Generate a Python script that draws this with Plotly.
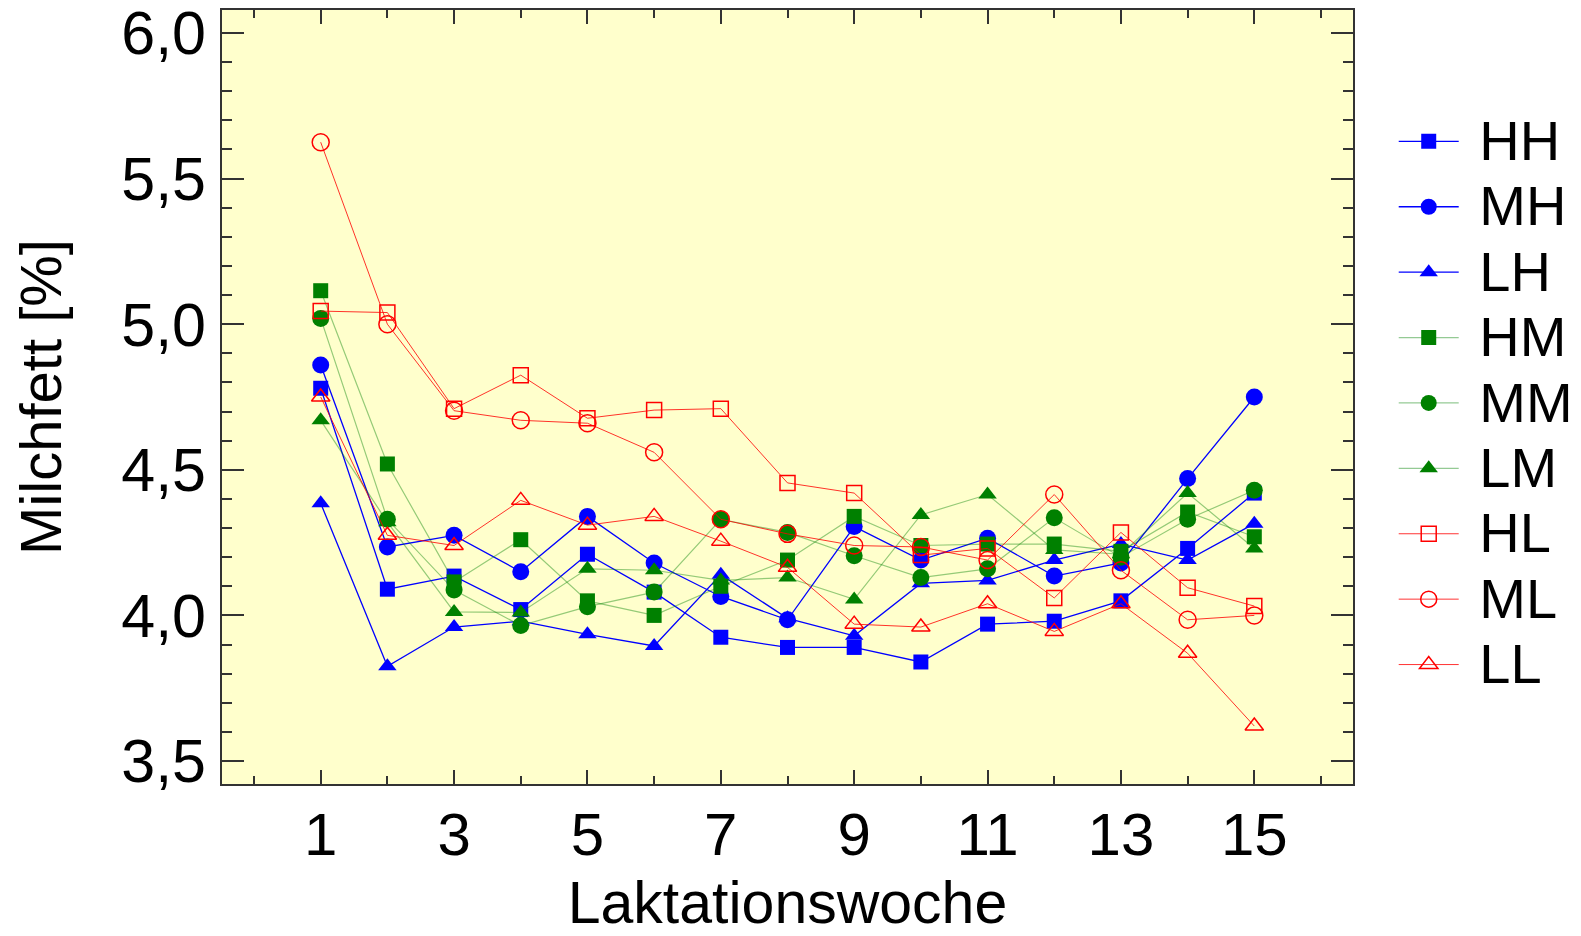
import plotly.graph_objects as go

weeks = list(range(1, 16))

HH = [4.78, 4.09, 4.135, 4.02, 4.21, 4.08, 3.925, 3.89, 3.89, 3.84, 3.97, 3.98, 4.05, 4.23, 4.42]
MH = [4.86, 4.235, 4.275, 4.15, 4.34, 4.18, 4.065, 3.985, 4.305, 4.19, 4.265, 4.135, 4.18, 4.47, 4.75]
LH = [4.385, 3.825, 3.96, 3.98, 3.935, 3.895, 4.14, 3.99, 3.93, 4.11, 4.12, 4.19, 4.245, 4.19, 4.315]
HM = [5.115, 4.52, 4.115, 4.26, 4.05, 4.0, 4.10, 4.19, 4.34, 4.24, 4.245, 4.245, 4.22, 4.355, 4.27]
MM = [5.02, 4.33, 4.087, 3.965, 4.03, 4.08, 4.33, 4.285, 4.205, 4.13, 4.16, 4.335, 4.20, 4.33, 4.43]
LM = [4.67, 4.32, 4.012, 4.01, 4.16, 4.155, 4.12, 4.13, 4.055, 4.345, 4.415, 4.225, 4.21, 4.42, 4.23]
HL = [5.045, 5.04, 4.71, 4.825, 4.677, 4.705, 4.71, 4.455, 4.42, 4.207, 4.23, 4.06, 4.285, 4.095, 4.032]
ML = [5.625, 5.0, 4.703, 4.67, 4.66, 4.56, 4.33, 4.28, 4.24, 4.235, 4.19, 4.415, 4.155, 3.985, 4.0]
LL = [4.75, 4.275, 4.24, 4.395, 4.31, 4.34, 4.255, 4.165, 3.97, 3.96, 4.04, 3.945, 4.04, 3.87, 3.62]

x_ticks = [1, 3, 5, 7, 9, 11, 13, 15]
x_minor = [0, 2, 4, 6, 8, 10, 12, 14, 16]
y_ticks = [3.5, 4.0, 4.5, 5.0, 5.5, 6.0]
y_ticklabels = ["3,5", "4,0", "4,5", "5,0", "5,5", "6,0"]

FONT = "Liberation Sans, Arial, sans-serif"

series = [
    ("HH", HH, "#0000FF", "rgba(0,0,255,1)", 1.3, "square", 15),
    ("MH", MH, "#0000FF", "rgba(0,0,255,1)", 1.3, "circle", 17),
    ("LH", LH, "#0000FF", "rgba(0,0,255,1)", 1.3, "triangle-up", 16),
    ("HM", HM, "#008000", "rgba(0,128,0,0.42)", 1.2, "square", 15),
    ("MM", MM, "#008000", "rgba(0,128,0,0.42)", 1.2, "circle", 17),
    ("LM", LM, "#008000", "rgba(0,128,0,0.42)", 1.2, "triangle-up", 16),
    ("HL", HL, "#FF0000", "rgba(255,0,0,0.8)", 1.0, "square-open", 15),
    ("ML", ML, "#FF0000", "rgba(255,0,0,0.8)", 1.0, "circle-open", 17),
    ("LL", LL, "#FF0000", "rgba(255,0,0,0.8)", 1.0, "triangle-up-open", 16),
]

fig = go.Figure()
for name, vals, mcol, lcol, lw, sym, sz in series:
    fig.add_trace(go.Scatter(
        x=weeks, y=vals,
        name='<span style="font-size:56px">\u00a0' + name + '</span>',
        mode="lines+markers",
        line=dict(color=lcol, width=lw),
        marker=dict(symbol=sym, size=sz, color=mcol,
                    line=dict(color=mcol, width=1.5 if "open" in sym else 0)),
    ))

# page body has an 8px default margin, so the figure is drawn 8px in from the window edge
fig.update_layout(
    width=1573, height=928,
    margin=dict(l=214, r=228, t=2, b=152),
    paper_bgcolor="white",
    plot_bgcolor="#FFFFCC",
    font=dict(family=FONT, color="black", size=58),
    showlegend=True,
    legend=dict(
        x=1.036, y=0.879, xanchor="left", yanchor="top",
        font=dict(family=FONT, size=48, color="black"),
        itemwidth=60, tracegroupgap=0, bgcolor="rgba(0,0,0,0)",
    ),
    xaxis=dict(
        range=[-0.48, 16.48], automargin=False,
        tickmode="array", tickvals=x_ticks,
        ticks="inside", ticklen=14, tickwidth=1.5, tickcolor="#333",
        showline=True, linecolor="#333", linewidth=1.5, mirror="ticks",
        showgrid=False, zeroline=False,
        tickfont=dict(family=FONT, size=60),
        ticklabelstandoff=-3, ticklabeloverflow="allow",
        minor=dict(tickvals=x_minor, ticks="inside", ticklen=8, tickwidth=1.5, tickcolor="#333", showgrid=False),
        title=dict(text="Laktationswoche", font=dict(family=FONT, size=59), standoff=58),
    ),
    yaxis=dict(
        range=[3.421, 6.079], automargin=False,
        tickmode="array", tickvals=y_ticks, ticktext=y_ticklabels,
        ticks="inside", ticklen=22, tickwidth=1.5, tickcolor="#333",
        showline=True, linecolor="#333", linewidth=1.5, mirror="ticks",
        showgrid=False, zeroline=False,
        tickfont=dict(family=FONT, size=61),
        ticklabelstandoff=2, ticklabeloverflow="allow",
        minor=dict(dtick=0.1, tick0=3.5, ticks="inside", ticklen=10, tickwidth=1.5, tickcolor="#333", showgrid=False),
        title=dict(text="Milchfett [%]", font=dict(family=FONT, size=58), standoff=55),
    ),
)

fig.write_html("out.html")
